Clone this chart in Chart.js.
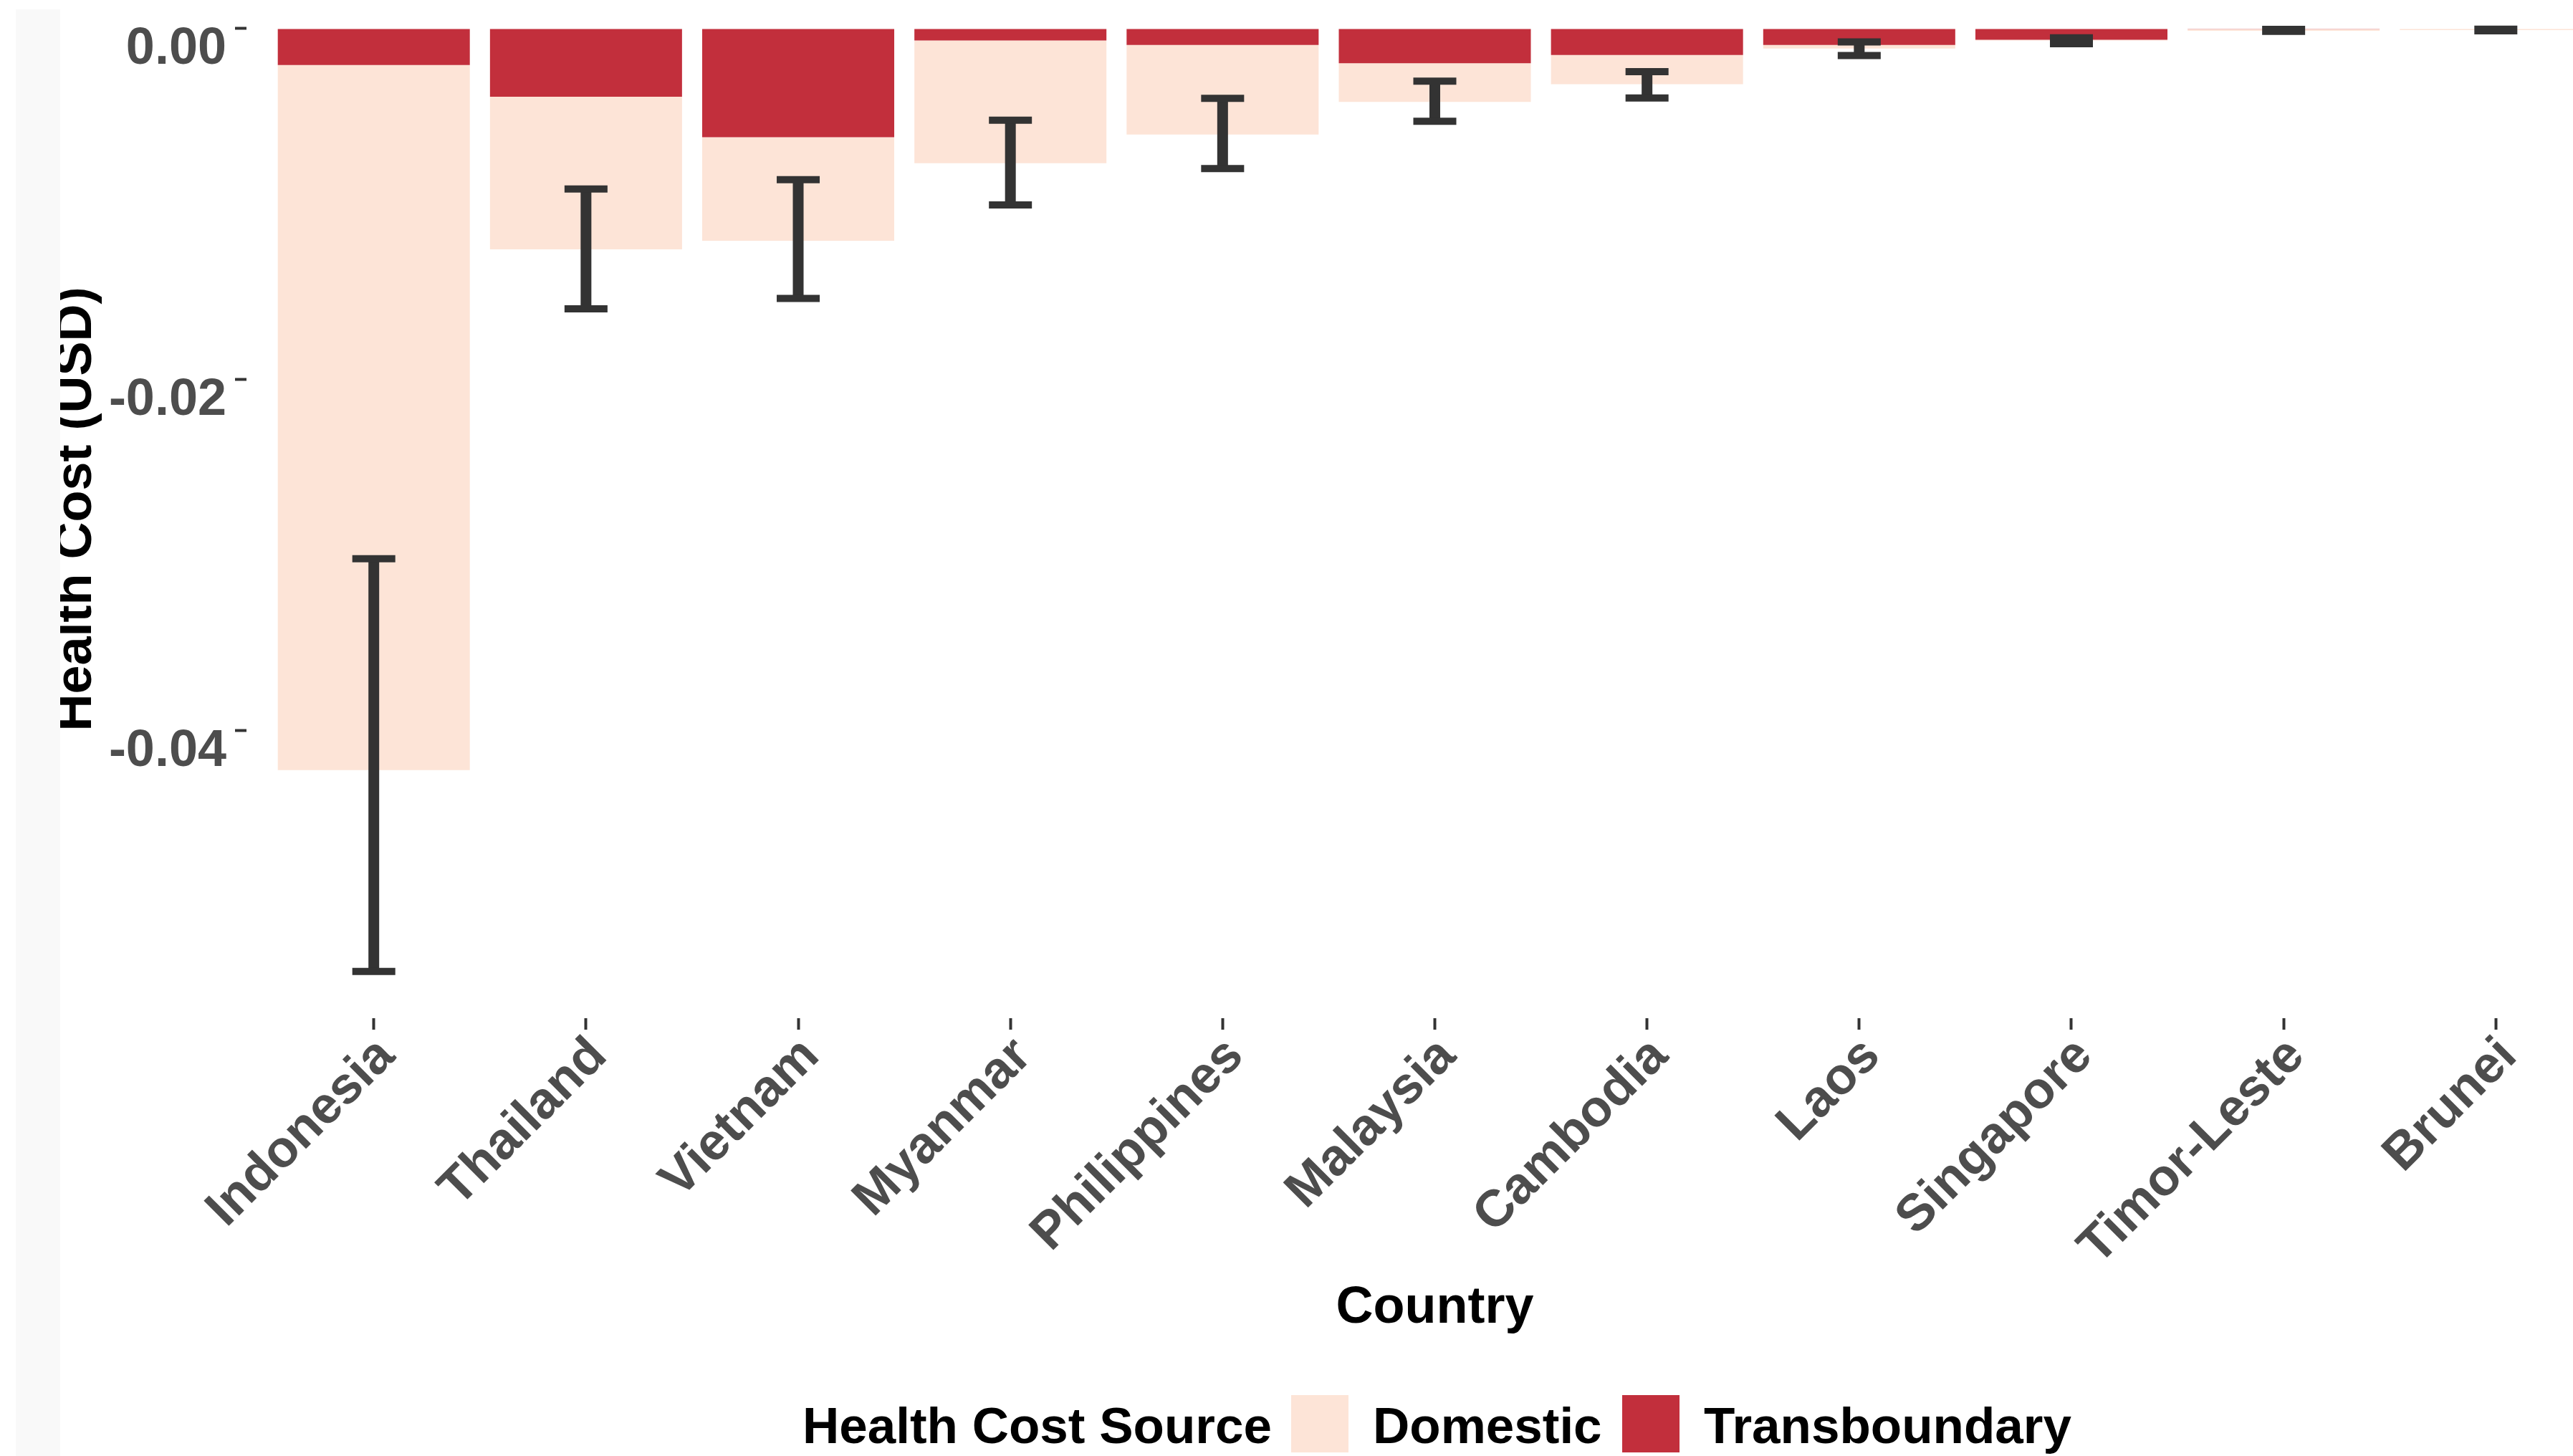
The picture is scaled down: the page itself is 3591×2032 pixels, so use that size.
<!DOCTYPE html>
<html>
<head>
<meta charset="utf-8">
<script src="https://cdn.jsdelivr.net/npm/chart.js@4.4.1/dist/chart.umd.min.js"></script>
<style>
  html, body { margin: 0; padding: 0; background: #fff; overflow: hidden; }
  /* the original plot panel runs past the right edge of the picture, so the page is a bit wider */
  #wrap { position: relative; width: 3661px; height: 2032px; }
  #strip { position: absolute; left: 22px; top: 13px; width: 62px; bottom: 0; background: #f9f9f9; }
  #legend { position: absolute; left: 0; top: 1947px; width: 3591px; height: 80px;
            font-family: 'Liberation Sans', Arial, sans-serif; font-weight: bold; font-size: 71px; color: #000; white-space: nowrap; }
  #legend span { position: absolute; top: 0; height: 80px; line-height: 86px; }
  #legend .box { width: 80px; height: 80px; }
</style>
</head>
<body>
<div id="wrap">
  <div id="strip"></div>
  <canvas id="healthChart"></canvas>
  <div id="legend"></div>
</div>
<script>
// data (USD, negative = cost)
var countries = ['Indonesia', 'Thailand', 'Vietnam', 'Myanmar', 'Philippines', 'Malaysia',
                 'Cambodia', 'Laos', 'Singapore', 'Timor-Leste', 'Brunei'];
var transboundary = [-0.00207, -0.00388, -0.00619, -0.00068, -0.00093, -0.00197,
                     -0.00150, -0.00093, -0.00064, -0.00003, -0.00002];
var domestic = [-0.04017, -0.00869, -0.00589, -0.00699, -0.00510, -0.00221,
                -0.00167, -0.00021, -0.00004, -0.00009, -0.00006];
var errorHigh = [-0.03020, -0.00914, -0.00860, -0.00522, -0.00397, -0.00299,
                 -0.00245, -0.00076, -0.00052, -0.00004, -0.00003];
var errorLow = [-0.05371, -0.01596, -0.01537, -0.01004, -0.00797, -0.00528,
                -0.00395, -0.00153, -0.00086, -0.00016, -0.00012];
var yTicks = [0, -0.02, -0.04];
var yTickLabels = ['0.00', '-0.02', '-0.04'];

Chart.defaults.font.family = "'Liberation Sans', Arial, sans-serif";

var errorBars = {
    id: 'errorBars',
    afterDatasetsDraw: function (chart) {
        var ctx = chart.ctx, x = chart.scales.x, y = chart.scales.y, area = chart.chartArea;
        ctx.save();
        ctx.beginPath();
        ctx.rect(area.left, area.top, area.right - area.left, area.bottom - area.top);
        ctx.clip();
        ctx.strokeStyle = '#333333';
        ctx.lineCap = 'butt';
        for (var i = 0; i < countries.length; i++) {
            var px = x.getPixelForValue(i);
            var y1 = y.getPixelForValue(errorHigh[i]);
            var y2 = y.getPixelForValue(errorLow[i]);
            ctx.lineWidth = 15;
            ctx.beginPath();
            ctx.moveTo(px, y1);
            ctx.lineTo(px, y2);
            ctx.stroke();
            ctx.lineWidth = 10;
            ctx.beginPath();
            ctx.moveTo(px - 30, y1);
            ctx.lineTo(px + 30, y1);
            ctx.moveTo(px - 30, y2);
            ctx.lineTo(px + 30, y2);
            ctx.stroke();
        }
        ctx.restore();
    }
};

// legend laid out like the ggplot one: title on the same row as the keys
var htmlLegend = {
    id: 'htmlLegend',
    afterUpdate: function (chart) {
        var el = document.getElementById('legend');
        var keyLeft = [1802, 2264];
        var html = '<span style="left:1120px">Health Cost Source</span>';
        chart.data.datasets.slice().reverse().forEach(function (ds, k) {
            html += '<span class="box" style="left:' + keyLeft[k] + 'px;background:' + ds.backgroundColor + '"></span>' +
                    '<span style="left:' + (keyLeft[k] + 114) + 'px">' + ds.label + '</span>';
        });
        el.innerHTML = html;
    }
};

var chart = document.getElementById('healthChart').getContext('2d');
var myChart = new Chart(chart, {
    type: 'bar',
    data: {
        datasets: [{
            label: 'Transboundary',
            data: transboundary.map(function (v, i) { return { x: i, y: v }; }),
            backgroundColor: '#c22f3c'
        }, {
            label: 'Domestic',
            data: domestic.map(function (v, i) { return { x: i, y: v }; }),
            backgroundColor: '#fde4d7'
        }]
    },
    options: {
        responsive: true,
        maintainAspectRatio: false,
        devicePixelRatio: 1,
        animation: false,
        categoryPercentage: 0.905,
        barPercentage: 1,
        borderWidth: 0,
        layout: { padding: { left: 0, right: 0, top: 0, bottom: 163 } },
        plugins: {
            legend: { display: false },
            tooltip: { enabled: false }
        },
        scales: {
            x: {
                type: 'linear',
                stacked: true,
                offset: false,
                min: -0.6,
                max: 10.6,
                afterBuildTicks: function (axis) {
                    axis.ticks = countries.map(function (c, i) { return { value: i }; });
                },
                afterFit: function (scale) {
                    scale.height = 448;
                    scale.paddingLeft = 0;
                    scale.paddingRight = 0;
                },
                border: { display: false },
                grid: { offset: false, drawOnChartArea: false, drawTicks: true, tickLength: 16, tickWidth: 4, tickColor: '#333333' },
                ticks: {
                    autoSkip: false,
                    minRotation: 45,
                    maxRotation: 45,
                    padding: 0,
                    labelOffset: 18,
                    color: '#4d4d4d',
                    font: { size: 72, weight: 'bold', lineHeight: 1 },
                    callback: function (value) { return countries[value]; }
                },
                title: {
                    display: true,
                    text: 'Country',
                    color: '#000000',
                    padding: { top: 0, bottom: 0 },
                    font: { size: 72, weight: 'bold' }
                }
            },
            y: {
                stacked: true,
                min: -0.05637,
                max: 0.00163,
                afterBuildTicks: function (axis) {
                    axis.ticks = yTicks.map(function (v) { return { value: v }; });
                },
                afterFit: function (scale) {
                    scale.width = 344;
                    scale.paddingTop = 0;
                    scale.paddingBottom = 0;
                },
                border: { display: false },
                grid: { drawOnChartArea: false, drawTicks: true, tickLength: 16, tickWidth: 4, tickColor: '#333333' },
                ticks: {
                    padding: 12,
                    labelOffset: 29,
                    color: '#4d4d4d',
                    font: { size: 72, weight: 'bold' },
                    callback: function (value) { return yTickLabels[yTicks.indexOf(value)]; }
                },
                title: {
                    display: true,
                    text: 'Health Cost (USD)',
                    color: '#000000',
                    padding: { top: 64, bottom: 0 },
                    font: { size: 72, weight: 'bold' }
                }
            }
        }
    },
    plugins: [errorBars, htmlLegend]
});
</script>
</body>
</html>
